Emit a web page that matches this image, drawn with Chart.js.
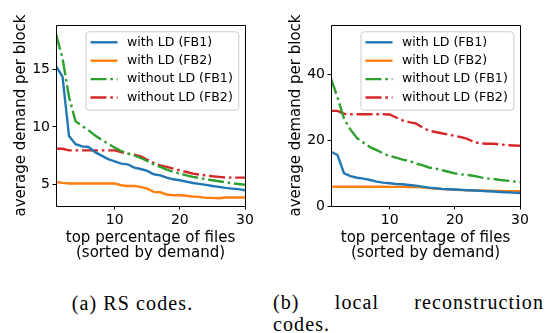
<!DOCTYPE html>
<html>
<head>
<meta charset="utf-8">
<script src="https://cdn.jsdelivr.net/npm/chart.js@4.4.1/dist/chart.umd.min.js"></script>
<style>
  html, body { margin: 0; padding: 0; background: #fff; }
  body { width: 546px; height: 333px; position: relative; overflow: hidden; }
  .panel { position: absolute; top: 0; height: 265px; }
  #panelA { left: 0; width: 270px; }
  #panelB { left: 270px; width: 276px; }
  .caption {
    position: absolute;
    font-family: "Liberation Serif", serif;
    font-size: 20px;
    line-height: 22px;
    letter-spacing: 1.1px;
    color: #000;
    white-space: nowrap;
  }
  #capA { left: 0; width: 265px; top: 291.5px; text-align: center; }
  #capB { left: 273px; width: 271px; top: 290.5px; }
  #capB .line1 { display: flex; justify-content: space-between; }
</style>
</head>
<body>
<div class="panel" id="panelA"><canvas id="chartRS"></canvas></div>
<div class="panel" id="panelB"><canvas id="chartLRC"></canvas></div>
<div class="caption" id="capA">(a) RS codes.</div>
<div class="caption" id="capB">
  <div class="line1"><span>(b)</span><span>local</span><span>reconstruction</span></div>
  <div>codes.</div>
</div>

<script>
// ==============================
// DATA
// ==============================
const pct = [1, 2, 3, 4, 5, 6, 7, 8, 9, 10, 11, 12, 13, 14, 15,
             16, 17, 18, 19, 20, 21, 22, 23, 24, 25, 26, 27, 28, 29, 30];
const xTicks = [10, 20, 30];
const seriesNames = ["with LD (FB1)", "with LD (FB2)", "without LD (FB1)", "without LD (FB2)"];

// (a) RS codes
const rsWithFB1 = [15.3, 14.4, 9.2, 8.5, 8.3, 8.25, 7.8, 7.5, 7.2, 7.0, 6.8, 6.74, 6.45, 6.33, 6.16,
                   5.87, 5.78, 5.58, 5.43, 5.35, 5.23, 5.11, 5.03, 4.94, 4.85, 4.77, 4.68, 4.62, 4.57, 4.48];
const rsWithFB2 = [5.2, 5.12, 5.06, 5.06, 5.06, 5.06, 5.06, 5.06, 5.06, 5.06, 4.91, 4.85, 4.85, 4.77, 4.62,
                   4.33, 4.3, 4.1, 4.04, 4.04, 4.0, 3.93, 3.9, 3.81, 3.81, 3.78, 3.84, 3.84, 3.84, 3.84];
const rsWithoutFB1 = [18.1, 16.0, 12.6, 10.5, 10.1, 9.7, 9.26, 8.88, 8.54, 8.19, 7.9, 7.67, 7.52, 7.29, 7.03,
                      6.74, 6.51, 6.28, 6.07, 5.93, 5.78, 5.64, 5.55, 5.43, 5.35, 5.26, 5.17, 5.09, 5.02, 4.95];
const rsWithoutFB2 = [8.1, 8.1, 7.96, 7.96, 7.96, 7.96, 7.96, 7.96, 7.96, 7.96, 7.8, 7.67, 7.58, 7.43, 7.14,
                      6.86, 6.65, 6.51, 6.36, 6.22, 6.07, 5.93, 5.84, 5.78, 5.7, 5.64, 5.58, 5.58, 5.58, 5.58];
const rsYTicks = [5, 10, 15];

// (b) local reconstruction codes
const lrcWithFB1 = [16.5, 15.5, 9.9, 9.1, 8.6, 8.3, 7.9, 7.4, 7.1, 6.9, 6.7, 6.6, 6.4, 6.2, 5.9,
                    5.6, 5.4, 5.2, 5.1, 5.0, 4.9, 4.8, 4.7, 4.6, 4.5, 4.4, 4.25, 4.15, 4.05, 3.95];
const lrcWithFB2 = [5.9, 5.85, 5.85, 5.85, 5.85, 5.85, 5.85, 5.85, 5.85, 5.8, 5.8, 5.8, 5.75, 5.75, 5.7,
                    5.45, 5.3, 5.15, 5.05, 4.95, 4.85, 4.8, 4.75, 4.7, 4.65, 4.6, 4.55, 4.5, 4.5, 4.5];
const lrcWithoutFB1 = [38.7, 33.0, 26.5, 23.2, 20.6, 19.2, 17.9, 17.0, 16.0, 15.2, 14.7, 14.1, 13.7, 12.9, 12.4,
                       11.7, 11.4, 10.9, 10.4, 9.9, 9.6, 9.4, 9.1, 8.7, 8.4, 8.2, 7.9, 7.7, 7.5, 7.2];
const lrcWithoutFB2 = [28.9, 28.9, 28.0, 27.9, 27.9, 27.9, 27.9, 27.9, 27.9, 27.8, 26.9, 26.0, 25.5, 25.1, 23.9,
                       22.9, 22.5, 22.1, 21.7, 21.3, 20.9, 20.3, 19.4, 19.0, 18.9, 18.9, 18.7, 18.5, 18.4, 18.3];
const lrcYTicks = [0, 20, 40];

const yTitle = "average demand per block";
const xTitle = ["top percentage of files", "(sorted by demand)"];

// ==============================
// STYLE
// ==============================
const colors = ["#1f77b4", "#ff7f0e", "#2ca02c", "#d62728"];
const dashDot = [16, 3.8, 2.6, 3.8];
const dashes = [[], [], dashDot, dashDot];
const FONT = "'DejaVu Sans', sans-serif";

// frame (all four spines) + legend box in the upper right of the plot area
const frameAndLegend = {
  id: "frameAndLegend",
  afterDatasetsDraw(chart) {
    const { ctx, chartArea: a } = chart;
    ctx.save();

    ctx.setLineDash([]);
    ctx.strokeStyle = "#000";
    ctx.lineWidth = 1;
    ctx.beginPath();
    ctx.moveTo(a.left + 0.5, a.top + 0.5);
    ctx.lineTo(a.right + 0.5, a.top + 0.5);
    ctx.lineTo(a.right + 0.5, a.bottom + 0.5);
    ctx.lineTo(a.left + 0.5, a.bottom + 0.5);
    ctx.closePath();
    ctx.stroke();

    // legend
    ctx.font = "12.6px " + FONT;
    const sets = chart.data.datasets;
    const textW = Math.max(...sets.map(d => ctx.measureText(d.label).width));
    const boxW = 41.5 + textW + 5.5;
    const boxH = 78.4;
    const bx = a.right - 6.7 - boxW;
    const by = a.top + 6.3;

    ctx.beginPath();
    ctx.roundRect(bx + 0.5, by + 0.5, boxW, boxH, 3);
    ctx.fillStyle = "rgba(255,255,255,0.8)";
    ctx.fill();
    ctx.strokeStyle = "#cccccc";
    ctx.lineWidth = 1;
    ctx.stroke();

    sets.forEach((d, i) => {
      const cy = by + 11 + i * 18.4;
      ctx.beginPath();
      ctx.setLineDash(d.borderDash || []);
      ctx.lineCap = "butt";
      ctx.strokeStyle = d.borderColor;
      ctx.lineWidth = d.borderWidth;
      ctx.moveTo(bx + 5, cy);
      ctx.lineTo(bx + 32, cy);
      ctx.stroke();
      ctx.setLineDash([]);
      ctx.fillStyle = "#000";
      ctx.textAlign = "left";
      ctx.textBaseline = "middle";
      ctx.fillText(d.label, bx + 41.5, cy);
    });
    ctx.restore();
  }
};

function makePanel(canvasId, series, yMin, yMax, yTicks, yAxisWidth, yTitlePad, rightPad) {
  const canvas = document.getElementById(canvasId);
  if (!canvas || typeof Chart === "undefined") return null;

  return new Chart(canvas.getContext("2d"), {
    type: "line",
    data: {
      datasets: series.map((vals, i) => ({
        label: seriesNames[i],
        data: pct.map((p, j) => ({ x: p, y: vals[j] })),
        borderColor: colors[i],
        backgroundColor: colors[i],
        borderWidth: 2.4,
        borderDash: dashes[i],
        borderCapStyle: "butt",
        pointRadius: 0,
        tension: 0,
        fill: false
      }))
    },
    options: {
      responsive: true,
      maintainAspectRatio: false,
      animation: false,
      devicePixelRatio: 1,
      layout: { padding: { left: 0, top: 25, right: rightPad, bottom: 0 } },
      plugins: { legend: { display: false }, tooltip: { enabled: false } },
      scales: {
        x: {
          type: "linear",
          min: 1,
          max: 30,
          afterBuildTicks: s => { s.ticks = xTicks.map(v => ({ value: v })); },
          afterFit: s => { s.height = 59; },
          border: { display: false },
          grid: { drawOnChartArea: false, drawTicks: true, tickLength: 3.5, color: "#000" },
          ticks: { color: "#000", padding: 2, maxRotation: 0, font: { family: FONT, size: 14 } },
          title: {
            display: true,
            text: xTitle,
            color: "#000",
            padding: { top: 0, bottom: 4.4 },
            font: { family: FONT, size: 15, lineHeight: 1 }
          }
        },
        y: {
          type: "linear",
          min: yMin,
          max: yMax,
          afterBuildTicks: s => { s.ticks = yTicks.map(v => ({ value: v })); },
          afterFit: s => { s.width = yAxisWidth; },
          border: { display: false },
          grid: { drawOnChartArea: false, drawTicks: true, tickLength: 3.5, color: "#000" },
          ticks: { color: "#000", padding: 2.5, font: { family: FONT, size: 14 } },
          title: {
            display: true,
            text: yTitle,
            color: "#000",
            padding: { top: yTitlePad, bottom: 0 },
            font: { family: FONT, size: 15, lineHeight: 1 }
          }
        }
      }
    },
    plugins: [frameAndLegend]
  });
}

makePanel("chartRS", [rsWithFB1, rsWithFB2, rsWithoutFB1, rsWithoutFB2], 3.1, 18.9, rsYTicks, 56, 14, 25);
makePanel("chartLRC", [lrcWithFB1, lrcWithFB2, lrcWithoutFB1, lrcWithoutFB2], 0, 55, lrcYTicks, 61, 18.5, 26);
</script>
</body>
</html>
